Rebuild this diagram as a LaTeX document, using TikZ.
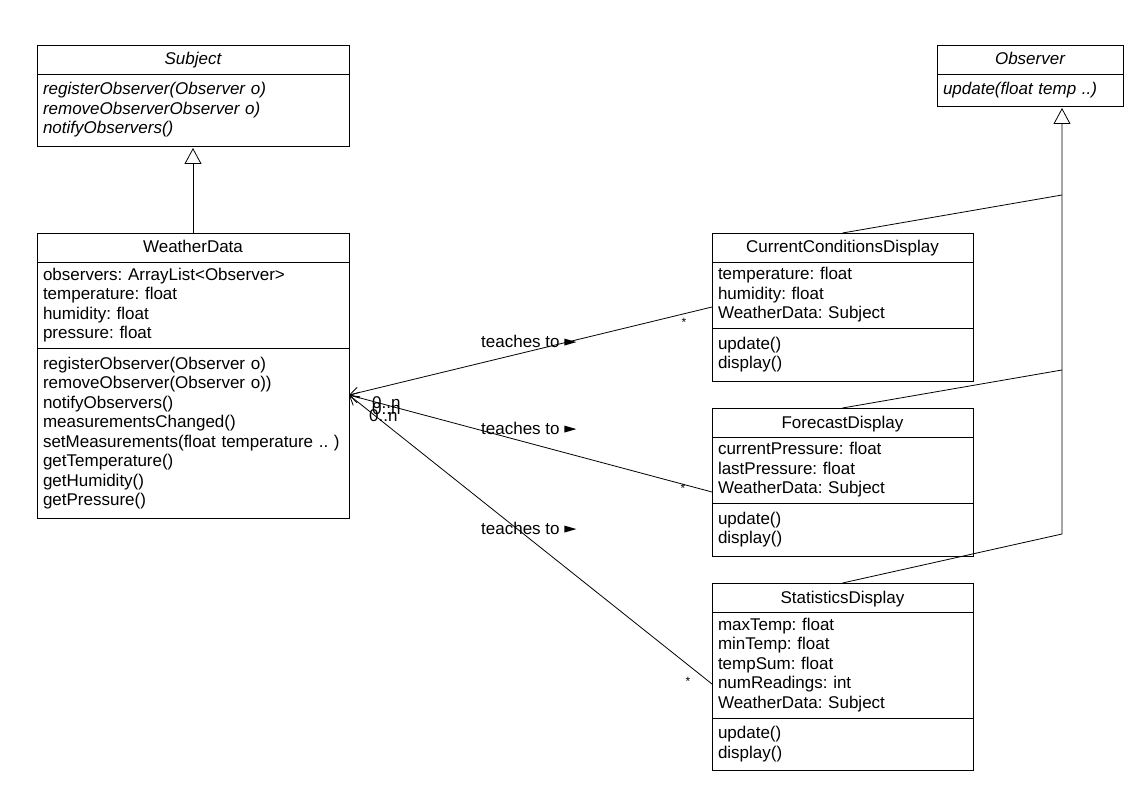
\documentclass[tikz,border=0pt]{standalone}
\usepackage{fontspec}
\setmainfont{Liberation Sans}
\usetikzlibrary{positioning,arrows.meta}
\frenchspacing
\newcommand{\umlfont}{\fontsize{17}{19.5}\selectfont}
\newcommand{\tri}{\tikz[baseline=-5pt]\fill (0pt,-3.5pt)--(12pt,0pt)--(0pt,3.5pt)--cycle;}
\begin{document}
\begin{tikzpicture}[x=1pt,y=-1pt,
  every node/.style={font=\umlfont},
  box/.style={draw,line width=0.8pt,inner xsep=6pt,inner ysep=0pt,outer sep=0pt,align=left},
  cname/.style={box,align=center,minimum height=29pt,text height=13pt,text depth=2pt},
  wide/.style={text width=300pt},
  mid/.style={text width=249pt},
  narrow/.style={text width=174pt},
  gen/.style={line width=0.8pt,-{Triangle[open,length=16pt,width=17pt]},shorten >=2pt},
  assoc/.style={line width=0.8pt,{Straight Barb[length=9pt,width=11pt]}-},
  lbl/.style={anchor=west,inner sep=0pt},
  mult/.style={inner sep=0pt,font=\fontsize{12}{14}\selectfont}]
\useasboundingbox (0,0) rectangle (1138,794);
% interfaces
\node[cname,wide,anchor=north west] (subj) at (37,45) {\itshape Subject};
\node[box,wide,below=0pt of subj,minimum height=72pt] (subjops) {\itshape registerObserver(Observer o)\\removeObserverObserver o)\\notifyObservers()};
\node[cname,narrow,anchor=north west] (obs) at (937,45) {\itshape Observer};
\node[box,narrow,below=0pt of obs,minimum height=32pt] (obsops) {\itshape update(float temp ..)};
% subject
\node[cname,wide,anchor=north west] (wd) at (37,233) {WeatherData};
\node[box,wide,below=0pt of wd,minimum height=86pt] (wdattr) {observers: ArrayList<Observer>\\temperature: float\\humidity: float\\pressure: float};
\node[box,wide,below=0pt of wdattr,minimum height=170pt] (wdops) {registerObserver(Observer o)\\removeObserver(Observer o))\\notifyObservers()\\measurementsChanged()\\setMeasurements(float temperature .. )\\getTemperature()\\getHumidity()\\getPressure()};
% displays
\node[cname,mid,anchor=north west] (cur) at (712,233) {CurrentConditionsDisplay};
\node[box,mid,below=0pt of cur,minimum height=66pt] (curattr) {temperature: float\\humidity: float\\WeatherData: Subject};
\node[box,mid,below=0pt of curattr,minimum height=53pt] (curops) {update()\\display()};
\node[cname,mid,anchor=north west] (fore) at (712,408) {ForecastDisplay};
\node[box,mid,below=0pt of fore,minimum height=66pt] (foreattr) {currentPressure: float\\lastPressure: float\\WeatherData: Subject};
\node[box,mid,below=0pt of foreattr,minimum height=53pt] (foreops) {update()\\display()};
\node[cname,mid,anchor=north west] (stat) at (712,583) {StatisticsDisplay};
\node[box,mid,below=0pt of stat,minimum height=106pt] (statattr) {maxTemp: float\\minTemp: float\\tempSum: float\\numReadings: int\\WeatherData: Subject};
\node[box,mid,below=0pt of statattr,minimum height=52pt] (statops) {update()\\display()};
% generalization
\coordinate (j1) at (1062,195);
\coordinate (j2) at (1062,370);
\coordinate (j3) at (1062,534);
\draw[gen] (wd.north) -- (subjops.south);
\draw[gen] (stat.north) -- (j3) -- (obsops.south -| j3);
\draw[line width=0.8pt] (cur.north) -- (j1);
\draw[line width=0.8pt] (fore.north) -- (j2);
% associations
\coordinate (hub) at ([yshift=38pt]wdops.east);
\draw[assoc] (hub) -- ([yshift=-12pt]curattr.west);
\draw[assoc] (hub) -- ([yshift=-22pt]foreattr.west);
\draw[assoc] (hub) -- ([yshift=-19pt]statattr.west);
\node[lbl] (teach1) at (481,341) {teaches to \tri};
\node[lbl] (teach2) at (481,428) {teaches to \tri};
\node[lbl] (teach3) at (481,528) {teaches to \tri};
\node[lbl] (n1) at (372,403) {0..n};
\node[lbl] (n2) at (372,409) {0..n};
\node[lbl] (n3) at (369,416) {0..n};
\node[mult] (s1) at (684,322) {*};
\node[mult] (s2) at (683,488) {*};
\node[mult] (s3) at (688,681) {*};
\end{tikzpicture}
\end{document}
